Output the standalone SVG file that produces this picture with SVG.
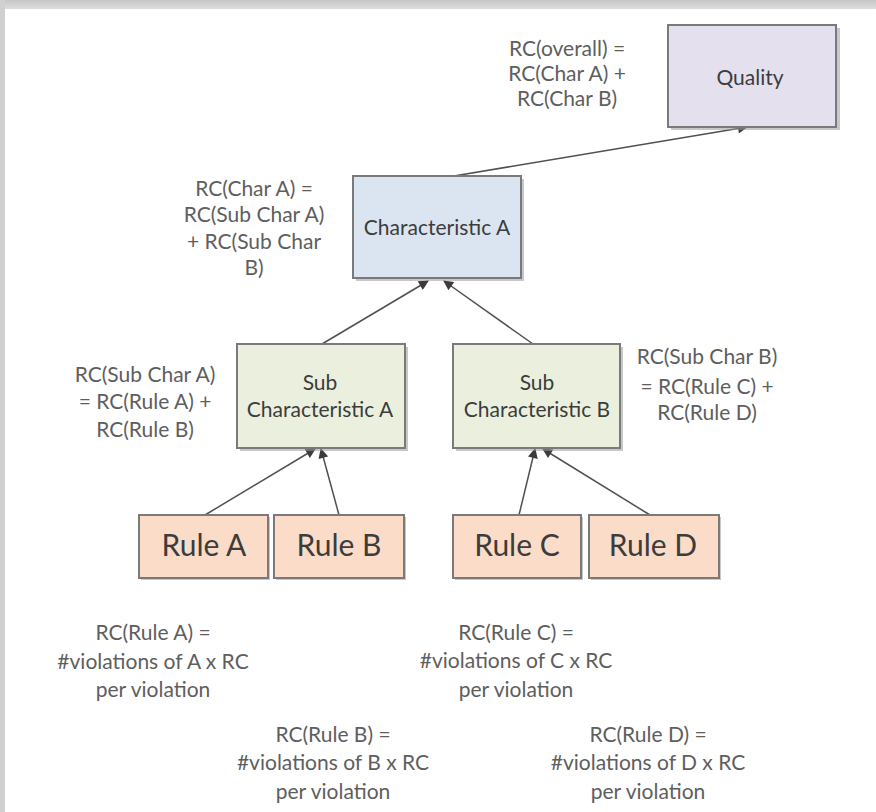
<svg xmlns="http://www.w3.org/2000/svg" width="876" height="812" viewBox="0 0 876 812">
<defs>
<linearGradient id="topband" x1="0" y1="0" x2="0" y2="1">
<stop offset="0" stop-color="#c6c6c6"/>
<stop offset="1" stop-color="#dedede"/>
</linearGradient>
<marker id="arr" viewBox="0 0 10 10" refX="9" refY="5" markerWidth="12" markerHeight="10" markerUnits="userSpaceOnUse" orient="auto">
<path d="M0,0 L10,5 L0,10 z" fill="#3c3c3c"/>
</marker>
</defs>
<style>
.node rect.box{stroke:#7a7a7a;stroke-width:2}
.shadow{fill:#9a9a9a;opacity:0.55}
.nt{font-family:Lato,"Open Sans","Liberation Sans",sans-serif;fill:#3c3c3c;text-anchor:middle}
.lbl{font-family:Lato,"Open Sans","Liberation Sans",sans-serif;fill:#5e5e5e;text-anchor:middle;font-size:21px}
.conn line{stroke:#505050;stroke-width:1.5;marker-end:url(#arr)}
</style>
<rect x="0" y="0" width="876" height="812" fill="#ffffff"/>
<rect x="0" y="0" width="876" height="9" fill="url(#topband)"/>
<rect x="0" y="0" width="5" height="812" fill="#d0d0d0"/>

<g id="conn" class="conn">
<line x1="448" y1="177" x2="747" y2="127"/>
<line x1="322" y1="344" x2="428" y2="281"/>
<line x1="533" y1="344" x2="444" y2="281"/>
<line x1="205" y1="515" x2="315" y2="449"/>
<line x1="339" y1="515" x2="321" y2="449"/>
<line x1="519" y1="515" x2="535" y2="449"/>
<line x1="650" y1="515" x2="543" y2="449"/>
</g>

<g id="quality" class="node">
<rect class="shadow" x="671" y="28" width="169" height="102"/>
<rect class="box" x="668" y="25" width="168" height="102" fill="#e5e0ee"/>
<text class="nt" x="750" y="85" font-size="21">Quality</text>
</g>

<g id="charA" class="node">
<rect class="shadow" x="356" y="179" width="168" height="102"/>
<rect class="box" x="353" y="176" width="168" height="102" fill="#dbe5f1"/>
<text class="nt" x="437" y="235" font-size="21">Characteristic A</text>
</g>

<g id="subA" class="node">
<rect class="shadow" x="240" y="347" width="168" height="104"/>
<rect class="box" x="237" y="344" width="168" height="104" fill="#ebf0de"/>
<text class="nt" x="320" y="390" font-size="21">Sub</text>
<text class="nt" x="320" y="417" font-size="21">Characteristic A</text>
</g>

<g id="subB" class="node">
<rect class="shadow" x="456" y="347" width="167" height="104"/>
<rect class="box" x="453" y="344" width="167" height="104" fill="#ebf0de"/>
<text class="nt" x="537" y="390" font-size="21">Sub</text>
<text class="nt" x="537" y="417" font-size="21">Characteristic B</text>
</g>

<g id="ruleA" class="node">
<rect class="shadow" x="141" y="517" width="129" height="63"/>
<rect class="box" x="139" y="515" width="129" height="63" fill="#fbdcc8"/>
<text class="nt" x="204" y="556" font-size="30">Rule A</text>
</g>

<g id="ruleB" class="node">
<rect class="shadow" x="276" y="517" width="130" height="63"/>
<rect class="box" x="274" y="515" width="130" height="63" fill="#fbdcc8"/>
<text class="nt" x="339" y="556" font-size="30">Rule B</text>
</g>

<g id="ruleC" class="node">
<rect class="shadow" x="455" y="517" width="128" height="63"/>
<rect class="box" x="453" y="515" width="128" height="63" fill="#fbdcc8"/>
<text class="nt" x="517" y="556" font-size="30">Rule C</text>
</g>

<g id="ruleD" class="node">
<rect class="shadow" x="591" y="517" width="130" height="63"/>
<rect class="box" x="589" y="515" width="130" height="63" fill="#fbdcc8"/>
<text class="nt" x="653" y="556" font-size="30">Rule D</text>
</g>

<g id="labels">
<text class="lbl" x="567" y="56">RC(overall) =</text>
<text class="lbl" x="567" y="81">RC(Char A) +</text>
<text class="lbl" x="567" y="106">RC(Char B)</text>

<text class="lbl" x="254" y="196">RC(Char A) =</text>
<text class="lbl" x="254" y="222">RC(Sub Char A)</text>
<text class="lbl" x="254" y="249">+ RC(Sub Char</text>
<text class="lbl" x="254" y="275">B)</text>

<text class="lbl" x="145" y="382">RC(Sub Char A)</text>
<text class="lbl" x="145" y="409">= RC(Rule A) +</text>
<text class="lbl" x="145" y="437">RC(Rule B)</text>

<text class="lbl" x="707" y="364">RC(Sub Char B)</text>
<text class="lbl" x="707" y="394">= RC(Rule C) +</text>
<text class="lbl" x="707" y="420">RC(Rule D)</text>

<text class="lbl" x="153" y="640">RC(Rule A) =</text>
<text class="lbl" x="153" y="669">#violations of A x RC</text>
<text class="lbl" x="153" y="697">per violation</text>

<text class="lbl" x="333" y="742">RC(Rule B) =</text>
<text class="lbl" x="333" y="770">#violations of B x RC</text>
<text class="lbl" x="333" y="799">per violation</text>

<text class="lbl" x="516" y="640">RC(Rule C) =</text>
<text class="lbl" x="516" y="668">#violations of C x RC</text>
<text class="lbl" x="516" y="697">per violation</text>

<text class="lbl" x="648" y="742">RC(Rule D) =</text>
<text class="lbl" x="648" y="770">#violations of D x RC</text>
<text class="lbl" x="648" y="799">per violation</text>
</g>
</svg>
